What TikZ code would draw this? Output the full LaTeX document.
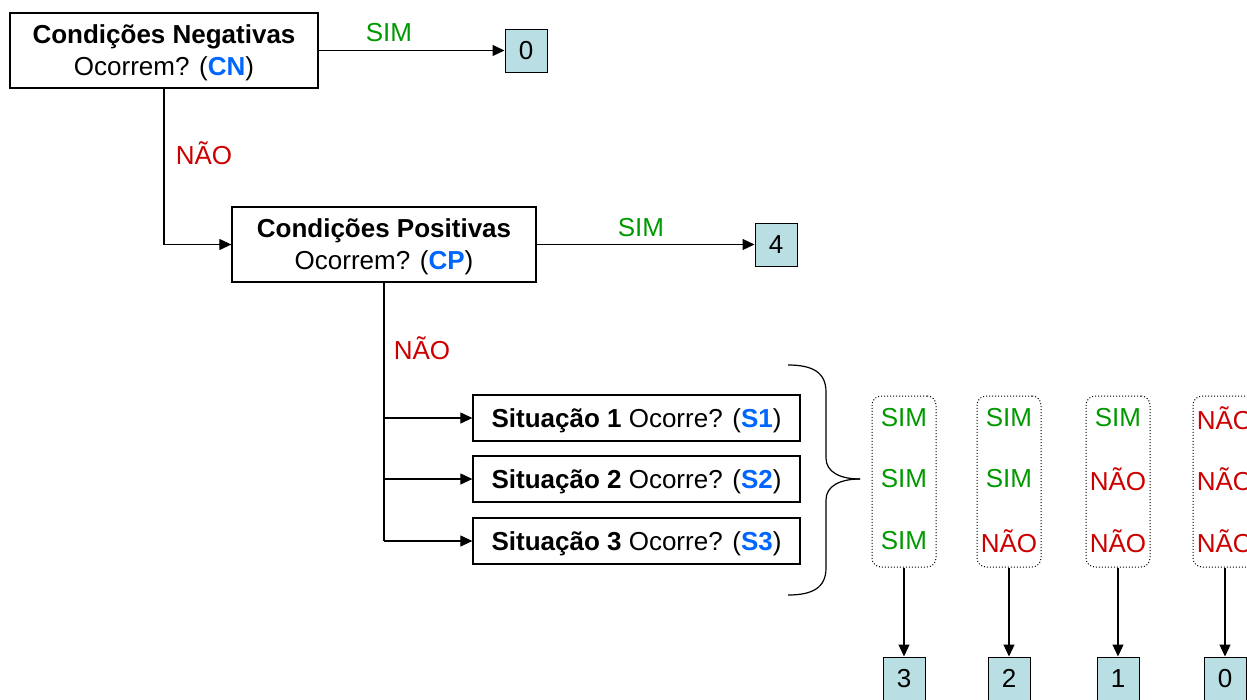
\documentclass[tikz,border=0pt]{standalone}
\usepackage{fontspec}
\setmainfont{Liberation Sans}
\usetikzlibrary{arrows.meta}
\definecolor{simgreen}{RGB}{0,153,0}
\definecolor{naored}{RGB}{204,0,0}
\definecolor{codeblue}{RGB}{0,102,255}
\definecolor{scorefill}{RGB}{185,222,227}

\begin{document}
\begin{tikzpicture}[x=1pt,y=-1pt,
  every node/.style={font=\fontsize{26}{32}\selectfont, inner sep=0pt},
  question/.style={draw, line width=1.3pt, minimum width=308pt, minimum height=75pt, align=center, text depth=0pt},
  sitbox/.style={draw, line width=1.3pt, minimum width=327pt, minimum height=46pt, text depth=0pt},
  score/.style={draw, line width=1pt, fill=scorefill, minimum width=42pt, minimum height=43pt},
  answers/.style={draw, dotted, line width=1pt, rounded corners=9pt, minimum width=64pt, minimum height=171pt},
  yes/.style={text=simgreen},
  no/.style={text=naored},
  conn/.style={line width=1.2pt},
  arr/.style={conn, -{Triangle[length=12pt,width=11pt]}},
]
\fill[white] (0,0) rectangle (1247,699);
\useasboundingbox (0,0) rectangle (1247,699);
\clip (0,0) rectangle (1247,699);

% decision boxes
\node[question] (cn) at (164,50.5)
  {\textbf{Condições Negativas}\\Ocorrem? (\textbf{\textcolor{codeblue}{CN}})};
\node[score] (z0) at (526,50.5) {0};
\node[question, minimum width=304pt] (cp) at (384,244.5)
  {\textbf{Condições Positivas}\\Ocorrem? (\textbf{\textcolor{codeblue}{CP}})};
\node[score] (p4) at (776,244.5) {4};

\node[sitbox] (s1) at (636.5,418) {\textbf{Situação 1} Ocorre? (\textbf{\textcolor{codeblue}{S1}})};
\node[sitbox] (s2) at (636.5,479) {\textbf{Situação 2} Ocorre? (\textbf{\textcolor{codeblue}{S2}})};
\node[sitbox] (s3) at (636.5,541) {\textbf{Situação 3} Ocorre? (\textbf{\textcolor{codeblue}{S3}})};

% connectors of the decision chain
\draw[arr] (cn.east |- z0.west) -- (z0.west);
\node[yes] (simcn) at (389,33) {SIM};
\draw[arr] (cn.south) |- (cp.west);
\node[no] (naocn) at (204,153) {NÃO};
\draw[arr] (cp.east |- p4.west) -- (p4.west);
\node[yes] (simcp) at (641,228) {SIM};
\node[no] (naocp) at (422,348) {NÃO};
\draw[conn] (cp.south) -- (cp.south |- s3.west);
\draw[arr] (cp.south |- s1.west) -- (s1.west);
\draw[arr] (cp.south |- s2.west) -- (s2.west);
\draw[arr] (cp.south |- s3.west) -- (s3.west);

% brace grouping the three situations
\draw[conn] (788,365) .. controls (812,365) and (826,372) .. (826,392)
  -- (826,458) .. controls (826,472) and (840,479) .. (860,479);
\draw[conn] (860,479) .. controls (840,479) and (826,486) .. (826,500)
  -- (826,568) .. controls (826,588) and (812,595) .. (788,595);

% answer combinations
\node[answers] (a1) at (904,481.5) {};
\node[answers] (a2) at (1009,481.5) {};
\node[answers] (a3) at (1118,481.5) {};
\node[answers] (a4) at (1225,481.5) {};

\node[yes] (a1r1) at (904,418) {SIM};
\node[yes] (a1r2) at (904,479) {SIM};
\node[yes] (a1r3) at (904,541) {SIM};
\node[yes] (a2r1) at (1009,418) {SIM};
\node[yes] (a2r2) at (1009,479) {SIM};
\node[no]  (a2r3) at (1009,541) {NÃO};
\node[yes] (a3r1) at (1118,418) {SIM};
\node[no]  (a3r2) at (1118,479) {NÃO};
\node[no]  (a3r3) at (1118,541) {NÃO};
\node[no]  (a4r1) at (1225,418) {NÃO};
\node[no]  (a4r2) at (1225,479) {NÃO};
\node[no]  (a4r3) at (1225,541) {NÃO};

% resulting scores
\node[score] (b3) at (904,678.5) {3};
\node[score] (b2) at (1009,678.5) {2};
\node[score] (b1) at (1118,678.5) {1};
\node[score] (b0) at (1225,678.5) {0};

\draw[arr] (a1.south) -- (b3.north);
\draw[arr] (a2.south) -- (b2.north);
\draw[arr] (a3.south) -- (b1.north);
\draw[arr] (a4.south) -- (b0.north);
\end{tikzpicture}
\end{document}
